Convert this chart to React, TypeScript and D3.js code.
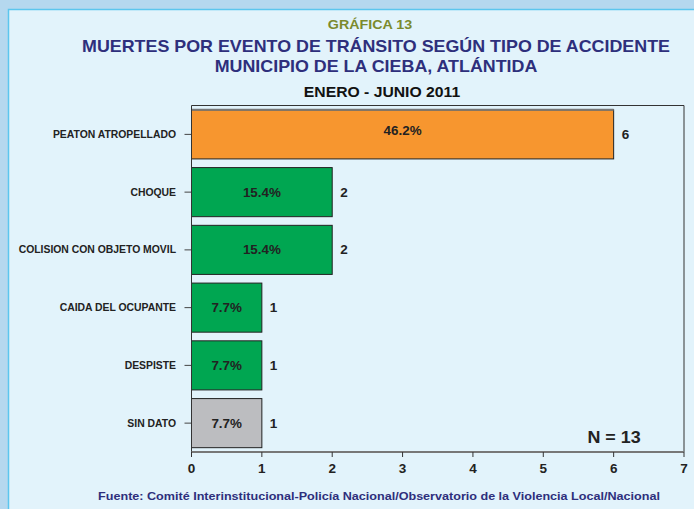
import React from "react";
import * as d3 from "d3";

const categories = ["PEATON ATROPELLADO", "CHOQUE", "COLISION CON OBJETO MOVIL", "CAIDA DEL OCUPANTE", "DESPISTE", "SIN DATO"];
const counts = [6, 2, 2, 1, 1, 1];
const percents = ["46.2%", "15.4%", "15.4%", "7.7%", "7.7%", "7.7%"];
const barColors = ["#f7962f", "#00a651", "#00a651", "#00a651", "#00a651", "#bcbdc0"];
const xTicks = [0, 1, 2, 3, 4, 5, 6, 7];

const W = 694, H = 509;
const M = { left: 191.5, right: 684, top: 105.5, bottom: 452 };
const FONT = "'Liberation Sans', Arial, sans-serif";

function T({ x, y, sx = 1, size, anchor = "start", fill = "#222", children }: any) {
  return (
    <text transform={`translate(${x},${y}) scale(${sx},1)`} textAnchor={anchor} fontSize={size} fontWeight="bold" fill={fill}>
      {children}
    </text>
  );
}

export default function App() {
  const x = d3.scaleLinear().domain([0, 7]).range([M.left, M.right]);
  const y = d3.scaleBand<string>().domain(categories).range([M.top, M.bottom]).paddingInner(0.15).paddingOuter(0.075);
  const bw = y.bandwidth();
  return (
    <svg width={W} height={H} style={{ position: "absolute", left: 0, top: 0, display: "block" }} fontFamily={FONT}>
      <rect x={0} y={0} width={W} height={H} fill="#b5d8ef" />
      <rect x={8.5} y={9.5} width={W + 20} height={H + 20} fill="#e2f3fb" stroke="#5cc6ee" strokeWidth={1.5} />
      <T x={370} y={29} size={13} sx={1.1} anchor="middle" fill="#7b8a2c">GRÁFICA 13</T>
      <T x={376} y={52} size={16.7} sx={1.07} anchor="middle" fill="#2e2f7c">MUERTES POR EVENTO DE TRÁNSITO SEGÚN TIPO DE ACCIDENTE</T>
      <T x={376} y={72} size={16.7} sx={1.07} anchor="middle" fill="#2e2f7c">MUNICIPIO DE LA CIEBA, ATLÁNTIDA</T>
      <T x={382} y={97} size={14.3} sx={1.1} anchor="middle" fill="#111">ENERO - JUNIO 2011</T>

      {/* frame */}
      <path d={`M${M.left},${M.top}H${M.right}V${M.bottom}`} fill="none" stroke="#333" strokeWidth={1} />

      {categories.map((c, i) => {
        const y0 = y(c)!;
        const yc = y0 + bw / 2;
        return (
          <g key={c}>
            <rect x={x(0)} y={y0} width={x(counts[i]) - x(0)} height={bw} fill={barColors[i]} stroke="#222" strokeWidth={1} />
            {i === 0 && <line x1={x(0)} x2={x(counts[i])} y1={y0} y2={y0} stroke="#777" strokeWidth={2} />}
            <T x={(x(0) + x(counts[i])) / 2} y={yc + (i === 0 ? 1 : 4.5)} size={13} sx={1.03} anchor="middle">{percents[i]}</T>
            <T x={x(counts[i]) + 8} y={yc + 4.5} size={13.5}>{counts[i]}</T>
            <line x1={M.left - 7} x2={M.left} y1={yc} y2={yc} stroke="#444" strokeWidth={1} />
            <T x={176} y={yc + 3.5} size={10} sx={1.04} anchor="end">{c}</T>
          </g>
        );
      })}

      {/* y axis */}
      <line x1={M.left} x2={M.left} y1={M.top} y2={M.bottom} stroke="#333" strokeWidth={1} />
      {/* x axis */}
      <line x1={M.left} x2={M.right} y1={M.bottom} y2={M.bottom} stroke="#777" strokeWidth={2} />
      {xTicks.map(t => (
        <g key={t}>
          <line x1={x(t)} x2={x(t)} y1={M.bottom} y2={M.bottom + 5} stroke="#333" strokeWidth={1} />
          <T x={x(t)} y={M.bottom + 21} size={13.5} anchor="middle">{t}</T>
        </g>
      ))}
      <T x={614} y={443} size={16} sx={1.12} anchor="middle">N = 13</T>
      <T x={379} y={500} size={10.5} sx={1.2} anchor="middle" fill="#2e2f7c">Fuente: Comité Interinstitucional-Policía Nacional/Observatorio de la Violencia Local/Nacional</T>
    </svg>
  );
}
